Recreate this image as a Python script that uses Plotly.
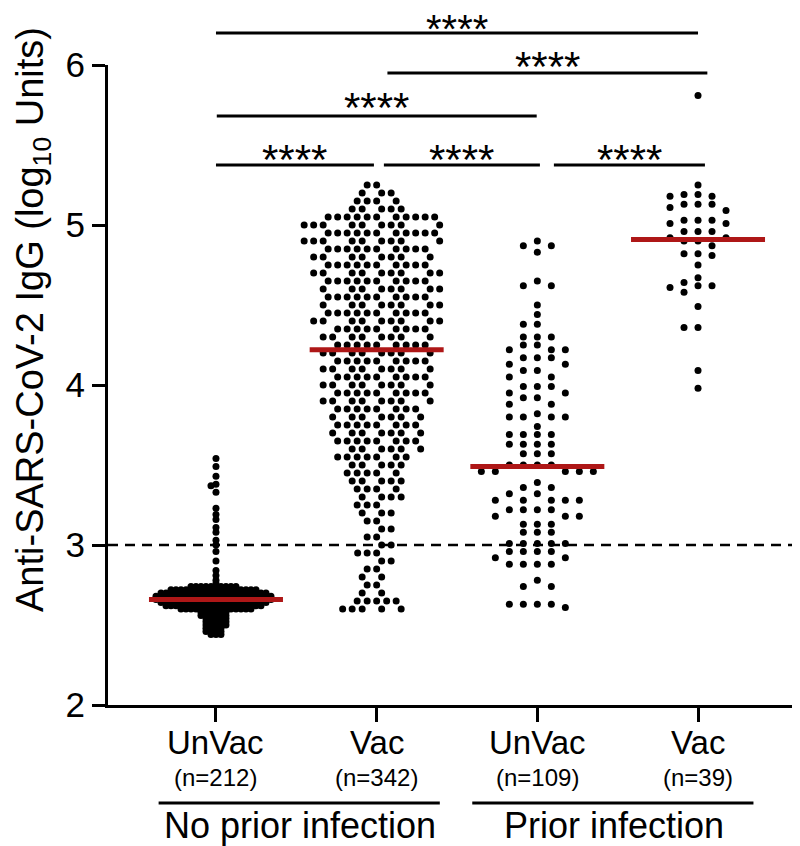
import plotly.graph_objects as go

# ---------------- data ----------------
categories = ["UnVac", "Vac", "UnVac", "Vac"]
n_labels = ["(n=212)", "(n=342)", "(n=109)", "(n=39)"]
infection_groups = ["No prior infection", "Prior infection"]
medians = [2.66, 4.22, 3.49, 4.91]

# each group: log10 values (rows of dots) and how many dots sit at that value
g1_values = [3.54, 3.49, 3.43, 3.38, 3.37, 3.33, 3.23, 3.19, 3.16, 3.11,
             3.08, 3.03, 3.00, 2.96, 2.90, 2.84, 2.81, 2.78, 2.76,
             2.74, 2.72, 2.70, 2.68, 2.66, 2.64, 2.62, 2.60,
             2.58, 2.56, 2.54, 2.52, 2.50, 2.48, 2.46, 2.44]
g1_counts = [1, 1, 1, 1, 1, 1, 1, 1, 1, 1,
             1, 1, 1, 1, 1, 1, 1, 1, 1,
             10, 18, 22, 24, 24, 22, 20, 15,
             6, 6, 5, 5, 5, 4, 4, 3]

g2_values = [5.25, 5.20, 5.15, 5.10, 5.05, 5.00, 4.95, 4.90, 4.85, 4.80,
             4.75, 4.70, 4.65, 4.60, 4.55, 4.50, 4.45, 4.40, 4.35, 4.30,
             4.25, 4.20, 4.15, 4.10, 4.05, 4.00, 3.95, 3.90, 3.85, 3.80,
             3.75, 3.70, 3.65, 3.60, 3.55, 3.50, 3.45, 3.40, 3.35, 3.30,
             3.25, 3.20, 3.15, 3.10, 3.05, 3.00, 2.95, 2.90, 2.85, 2.80,
             2.75, 2.70, 2.65, 2.60]
g2_counts = [2, 3, 4, 5, 11, 9, 11, 9, 10, 8,
             10, 9, 10, 8, 10, 8, 10, 9, 9, 8,
             9, 8, 9, 8, 9, 8, 9, 8, 8, 7,
             8, 7, 8, 6, 7, 5, 5, 5, 4, 4,
             3, 3, 2, 2, 2, 2, 3, 2, 2, 2,
             2, 2, 5, 5]

g3_values = [4.90, 4.87, 4.83, 4.65, 4.62, 4.50, 4.44, 4.38, 4.30, 4.25,
             4.22, 4.17, 4.13, 4.09, 4.05, 3.99, 3.95, 3.92, 3.88, 3.82,
             3.80, 3.74, 3.69, 3.63, 3.57, 3.50, 3.46, 3.39, 3.36, 3.32,
             3.28, 3.22, 3.18, 3.13, 3.08, 3.01, 2.96, 2.92, 2.88, 2.78,
             2.74, 2.63, 2.61]
g3_counts = [1, 2, 1, 1, 2, 1, 1, 2, 3, 2,
             3, 3, 2, 2, 2, 3, 2, 2, 2, 1,
             4, 1, 4, 4, 3, 4, 5, 1, 2, 2,
             5, 4, 3, 3, 3, 5, 4, 2, 4, 1,
             2, 4, 1]

g4_values = [5.81, 5.25, 5.19, 5.18, 5.13, 5.11, 5.09, 5.03, 5.01, 4.96,
             4.92, 4.90, 4.87, 4.82, 4.81, 4.75, 4.67, 4.64, 4.62, 4.61,
             4.58, 4.49, 4.36, 4.09, 3.98]
g4_counts = [1, 1, 2, 2, 3, 1, 1, 3, 2, 3,
             2, 2, 1, 2, 1, 1, 1, 1, 2, 1,
             1, 1, 2, 1, 1]

sig_label = "****"

# ---------------- layout constants ----------------
W, H = 800, 846
ML, MR, MT, MB = 100, 2, 57, 149
XMIN, XMAX = -0.672, 3.672
YMIN, YMAX = 2, 6
PLOT_W = W - ML - MR
PLOT_H = H - MT - MB
PX_PER_X = PLOT_W / (XMAX - XMIN)
PX_PER_Y = PLOT_H / (YMAX - YMIN)
FONT = "Liberation Sans, Arial, sans-serif"
RED = "#AE1717"


def xp(x):
    return (x - XMIN) / (XMAX - XMIN)


def yp_from_px(py):
    # pixel row in the page -> paper y
    return (MT + PLOT_H - py) / PLOT_H


def expand(values, counts):
    pts = []
    for v, c in zip(values, counts):
        pts += [v] * c
    pts.sort(reverse=True)
    return pts


def swarm_columns(center, values, counts, pitch_px, gap_px):
    """Prism-like layout: dots go into fixed columns, nearest free column first."""
    pts = expand(values, counts)
    gap = gap_px / PX_PER_Y
    order = [0]
    for k in range(1, 80):
        order += [-k, k]
    used = {}
    xs, ys = [], []
    for v in pts:
        for col in order:
            if all(abs(v - u) >= gap - 1e-9 for u in used.get(col, [])):
                used.setdefault(col, []).append(v)
                xs.append(center + col * pitch_px / PX_PER_X)
                ys.append(v)
                break
    return xs, ys


def swarm_packed(center, values, counts, diam_px):
    """Dense beeswarm: each dot at the free spot closest to the centre line."""
    pts = expand(values, counts)
    placed = []
    xs, ys = [], []
    d2 = diam_px ** 2
    for i, v in enumerate(pts):
        y = v * PX_PER_Y
        near = [(px, py) for (px, py) in placed if abs(py - y) < diam_px]
        sign = 1 if i % 2 == 0 else -1
        chosen = None
        k = 0
        while chosen is None:
            cands = [0.0] if k == 0 else [sign * k * 0.5, -sign * k * 0.5]
            for x in cands:
                if all((x - px) ** 2 + (y - py) ** 2 >= d2 for px, py in near):
                    chosen = x
                    break
            k += 1
        placed.append((chosen, y))
        xs.append(center + chosen / PX_PER_X)
        ys.append(v)
    return xs, ys


fig = go.Figure()

layouts = [
    swarm_columns(0, g1_values, g1_counts, 5, 3),
    swarm_packed(1, g2_values, g2_counts, 9.2),
    swarm_columns(2, g3_values, g3_counts, 14, 7),
    swarm_columns(3, g4_values, g4_counts, 14, 7),
]

for xs, ys in layouts:
    fig.add_trace(go.Scatter(x=xs, y=ys, mode="markers",
                             marker=dict(color="black", size=7, line=dict(width=0)),
                             showlegend=False, hoverinfo="skip", cliponaxis=False))

half = 67 / PX_PER_X
for i, m in enumerate(medians):
    fig.add_trace(go.Scatter(x=[i - half, i + half], y=[m, m], mode="lines",
                             line=dict(color=RED, width=5),
                             showlegend=False, hoverinfo="skip"))

shapes = []
# dashed threshold line at 3
shapes.append(dict(type="line", xref="paper", yref="paper", x0=0, x1=1,
                   y0=(3 - YMIN) / (YMAX - YMIN), y1=(3 - YMIN) / (YMAX - YMIN),
                   line=dict(color="black", width=2.5, dash="10px,7px"), layer="below"))

# significance bars: (left, right, bar pixel row, star pixel row, star size)
sig_bars = [(0.0, 0.983, 157, 151, 42), (1.045, 2.016, 157, 151, 42),
            (2.103, 3.043, 157, 151, 42), (0.005, 1.996, 108, 100, 42),
            (1.067, 3.058, 65, 58, 42), (0.0, 3.0, 25, 21, 40)]
annotations = []
for (a, b, py, spy, fs) in sig_bars:
    shapes.append(dict(type="line", xref="paper", yref="paper", x0=xp(a), x1=xp(b),
                       y0=yp_from_px(py), y1=yp_from_px(py),
                       line=dict(color="black", width=3)))
    annotations.append(dict(x=(a + b) / 2, xref="x", y=yp_from_px(spy), yref="paper",
                            text=sig_label, showarrow=False, yanchor="middle",
                            font=dict(family=FONT, size=fs, color="black")))

# category labels
for i, (c, n) in enumerate(zip(categories, n_labels)):
    annotations.append(dict(x=i, xref="x", y=yp_from_px(734), yref="paper", text=c,
                            showarrow=False, yanchor="middle",
                            font=dict(family=FONT, size=33, color="black")))
    annotations.append(dict(x=i, xref="x", y=yp_from_px(769), yref="paper", text=n,
                            showarrow=False, yanchor="middle",
                            font=dict(family=FONT, size=24, color="black")))

# infection group lines + labels
group_spans = [(-0.357, 1.393), (1.595, 3.345)]
group_text_x = [0.52, 2.475]
for g, (a, b), tx in zip(infection_groups, group_spans, group_text_x):
    shapes.append(dict(type="line", xref="paper", yref="paper", x0=xp(a), x1=xp(b),
                       y0=yp_from_px(795), y1=yp_from_px(795),
                       line=dict(color="black", width=3)))
    annotations.append(dict(x=tx, xref="x", y=yp_from_px(817), yref="paper",
                            text=g, showarrow=False, yanchor="middle",
                            font=dict(family=FONT, size=36, color="black")))

# y-axis title
annotations.append(dict(x=(25 - ML) / PLOT_W, xref="paper", y=yp_from_px(312), yref="paper",
                        text="Anti-SARS-CoV-2 IgG (log<sub>10</sub> Units)", textangle=-90,
                        showarrow=False, xanchor="center", yanchor="middle",
                        font=dict(family=FONT, size=38, color="black")))

fig.update_layout(
    width=W, height=H,
    margin=dict(l=ML, r=MR, t=MT, b=MB, pad=0),
    plot_bgcolor="white", paper_bgcolor="white",
    shapes=shapes, annotations=annotations,
    showlegend=False,
    xaxis=dict(range=[XMIN, XMAX], tickvals=[0, 1, 2, 3], showticklabels=False,
               ticks="outside", ticklen=14, tickwidth=3, tickcolor="black",
               showline=True, linewidth=3, linecolor="black",
               showgrid=False, zeroline=False, fixedrange=True),
    yaxis=dict(range=[YMIN, YMAX], tickvals=[2, 3, 4, 5, 6],
               ticks="outside", ticklen=13, tickwidth=3, tickcolor="black",
               showline=True, linewidth=3, linecolor="black",
               showgrid=False, zeroline=False,
               tickfont=dict(family=FONT, size=35, color="black"), fixedrange=True),
)

fig.write_html("out.html")
